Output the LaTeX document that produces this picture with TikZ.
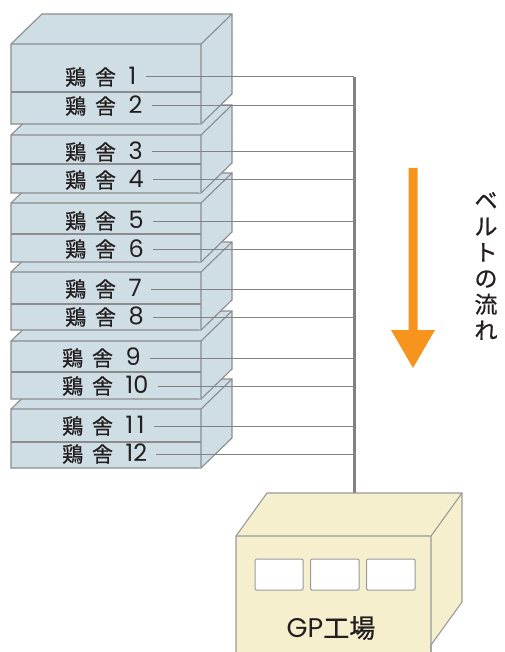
\documentclass[tikz,border=0pt]{standalone}
\usepackage{fontspec}
\newfontfamily\jp{Noto Sans CJK JP}[FakeBold=0.8]
\newfontfamily\pp{Poppins}
\definecolor{boxfill}{HTML}{CFDDE5}
\definecolor{boxline}{HTML}{8A8C8E}
\definecolor{factfill}{HTML}{F5EFCD}
\definecolor{factline}{HTML}{9A9A9A}
\definecolor{beltorange}{HTML}{F7941E}
\definecolor{txt}{HTML}{231F20}
\definecolor{wire}{HTML}{808285}
\newcommand\gsp{\hspace{0.42em}}
\newcommand\dsp{\hspace{0.6em}}
\newcommand\num[1]{{\pp\fontsize{24}{24}\selectfont #1}}
\newcommand\coop[3]{%
  \filldraw[boxs] (11,#1) -- (42,#1-30) -- (232,#1-30) -- (232,#3-30) -- (201,#3) -- (11,#3) -- cycle;
  \draw[boxs] (11,#1) -- (201,#1) -- (201,#3) (201,#1) -- (232,#1-30);
  \draw[boxs] (11,#2) -- (201,#2);}
\begin{document}
\begin{tikzpicture}[x=1pt,y=-1pt,
  boxs/.style={draw=boxline,fill=boxfill,line width=1.1pt,line join=miter},
  lab/.style={font={\jp\fontsize{21}{21}\selectfont},text=txt,inner xsep=9pt,inner ysep=0pt,anchor=west},
  wireline/.style={draw=wire,line width=1pt},
  factbox/.style={draw=factline,fill=factfill,line width=1.1pt},
  win/.style={draw=factline,fill=white,line width=1pt,rounded corners=1.2pt}]
\useasboundingbox (0,0) rectangle (505,652);
\clip (0,0) rectangle (505,652);
% houses, bottom first
\coop{409}{442}{468}
\coop{341}{372}{399}
\coop{272}{304}{330}
\coop{203}{234}{262}
\coop{135}{164}{193}
\coop{44}{92}{124}
% labels
\node[lab] (t1) at (56,77) {鶏\gsp 舎\dsp\num{1}};
\node[lab] (t2) at (56,106) {鶏\gsp 舎\dsp\num{2}};
\node[lab] (t3) at (56,152) {鶏\gsp 舎\dsp\num{3}};
\node[lab] (t4) at (56,180) {鶏\gsp 舎\dsp\num{4}};
\node[lab] (t5) at (56,221) {鶏\gsp 舎\dsp\num{5}};
\node[lab] (t6) at (56,249) {鶏\gsp 舎\dsp\num{6}};
\node[lab] (t7) at (56,289) {鶏\gsp 舎\dsp\num{7}};
\node[lab] (t8) at (56,317) {鶏\gsp 舎\dsp\num{8}};
\node[lab] (t9) at (53,358) {鶏\gsp 舎\dsp\num{9}};
\node[lab] (t10) at (53,386) {鶏\gsp 舎\dsp\num{10}};
\node[lab] (t11) at (53,426) {鶏\gsp 舎\dsp\num{1\hspace{0.15em}1}};
\node[lab] (t12) at (53,454) {鶏\gsp 舎\dsp\num{12}};
% belt
\coordinate (btop) at (354,77);
\coordinate (bbot) at (354,493);
\foreach \i in {1,...,12} {\draw[wireline] (t\i.east) -- (t\i.east -| btop);}
\draw[draw=wire,line width=3pt] (btop) -- (bbot);
% factory
\filldraw[factbox] (236,536) -- (267,493) -- (462,493) -- (462,602) -- (431,645) -- (431,660) -- (236,660) -- cycle;
\draw[factbox,fill=none] (236,536) -- (431,536) -- (431,660) (431,536) -- (462,493);
\draw[win] (255,559) rectangle (303,590);
\draw[win] (310.5,559) rectangle (359,590);
\draw[win] (366.5,559) rectangle (415,590);
\node[font={\jp\fontsize{26}{26}\selectfont},text=txt,inner sep=0pt] (gp) at (331,628) {{\pp\fontsize{27}{27}\selectfont GP}工場};
% arrow
\fill[beltorange] (408.5,168) -- (417.5,168) -- (417.5,330) -- (435,330) -- (413,368) -- (391,330) -- (408.5,330) -- cycle;
\node[font={\jp\fontsize{23}{26}\selectfont},text=txt,align=center,inner sep=0pt] (flow) at (486,266) {ベ\\ル\\ト\\の\\流\\れ};
\end{tikzpicture}
\end{document}
